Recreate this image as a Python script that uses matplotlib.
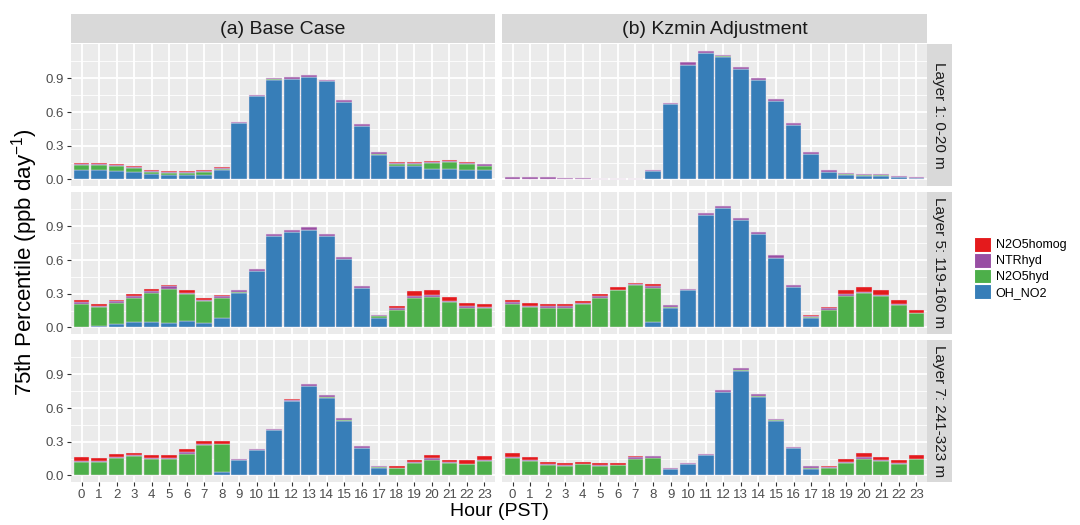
import matplotlib
matplotlib.use("Agg")
import matplotlib.pyplot as plt
from matplotlib.patches import Patch
import numpy as np

plt.rcParams["font.family"] = ["Liberation Sans", "DejaVu Sans"]
plt.rcParams["mathtext.fontset"] = "custom"
plt.rcParams["mathtext.rm"] = "Liberation Sans"
plt.rcParams["mathtext.default"] = "regular"

hours = list(range(24))
columns = ["(a) Base Case", "(b) Kzmin Adjustment"]
layers = ["Layer 1: 0-20 m", "Layer 5: 119-160 m", "Layer 7: 241-323 m"]
species = ["OH_NO2", "N2O5hyd", "NTRhyd", "N2O5homog"]   # stacked bottom -> top
legend_order = ["N2O5homog", "NTRhyd", "N2O5hyd", "OH_NO2"]

# ---- (a) Base Case ----
base_l1_oh = [0.081, 0.080, 0.078, 0.069, 0.050, 0.036, 0.036, 0.042, 0.084, 0.500, 0.740, 0.887,
              0.893, 0.913, 0.872, 0.687, 0.475, 0.221, 0.119, 0.116, 0.096, 0.093, 0.087, 0.080]
base_l1_hyd = [0.048, 0.048, 0.040, 0.033, 0.018, 0.022, 0.022, 0.026, 0.013, 0.003, 0.003, 0.003,
               0.003, 0.002, 0.002, 0.002, 0.003, 0.003, 0.018, 0.021, 0.050, 0.062, 0.052, 0.043]
base_l1_ntr = [0.010, 0.012, 0.013, 0.012, 0.010, 0.012, 0.012, 0.010, 0.008, 0.010, 0.012, 0.014,
               0.016, 0.018, 0.013, 0.015, 0.018, 0.020, 0.013, 0.013, 0.013, 0.013, 0.010, 0.012]
base_l1_homog = [0.004, 0.003, 0.003, 0.002, 0.002, 0.002, 0.002, 0.002, 0.002, 0.0, 0.0, 0.0,
                 0.0, 0.0, 0.0, 0.0, 0.0, 0.0, 0.002, 0.002, 0.002, 0.002, 0.003, 0.002]

base_l5_oh = [0.0, 0.009, 0.030, 0.048, 0.048, 0.039, 0.054, 0.042, 0.083, 0.304, 0.504, 0.810,
              0.849, 0.870, 0.810, 0.608, 0.352, 0.086, 0.0, 0.0, 0.0, 0.0, 0.0, 0.0]
base_l5_hyd = [0.209, 0.170, 0.191, 0.215, 0.262, 0.307, 0.242, 0.194, 0.176, 0.009, 0.0, 0.0,
               0.0, 0.0, 0.0, 0.0, 0.0, 0.012, 0.155, 0.265, 0.274, 0.226, 0.176, 0.173]
base_l5_ntr = [0.015, 0.015, 0.012, 0.015, 0.015, 0.021, 0.015, 0.012, 0.018, 0.021, 0.017, 0.018,
               0.021, 0.021, 0.024, 0.018, 0.017, 0.015, 0.021, 0.015, 0.015, 0.012, 0.018, 0.012]
base_l5_homog = [0.018, 0.018, 0.015, 0.021, 0.018, 0.012, 0.018, 0.012, 0.012, 0.0, 0.0, 0.0,
                 0.0, 0.0, 0.0, 0.0, 0.0, 0.0, 0.015, 0.042, 0.042, 0.036, 0.024, 0.021]

base_l7_oh = [0.0, 0.0, 0.0, 0.0, 0.0, 0.0, 0.0, 0.0, 0.030, 0.134, 0.229, 0.405,
              0.659, 0.799, 0.688, 0.489, 0.247, 0.063, 0.0, 0.0, 0.0, 0.0, 0.0, 0.0]
base_l7_hyd = [0.119, 0.119, 0.152, 0.170, 0.146, 0.146, 0.194, 0.271, 0.248, 0.0, 0.0, 0.0,
               0.006, 0.0, 0.012, 0.006, 0.0, 0.008, 0.063, 0.107, 0.137, 0.107, 0.098, 0.128]
base_l7_ntr = [0.009, 0.006, 0.012, 0.009, 0.009, 0.009, 0.015, 0.012, 0.006, 0.012, 0.009, 0.012,
               0.009, 0.018, 0.012, 0.012, 0.015, 0.009, 0.006, 0.012, 0.015, 0.012, 0.006, 0.012]
base_l7_homog = [0.033, 0.027, 0.027, 0.024, 0.027, 0.027, 0.024, 0.024, 0.024, 0.0, 0.0, 0.0,
                 0.009, 0.0, 0.0, 0.0, 0.0, 0.0, 0.012, 0.018, 0.033, 0.021, 0.030, 0.030]

# ---- (b) Kzmin Adjustment ----
kz_l1_oh = [0.006, 0.006, 0.006, 0.003, 0.003, 0.0, 0.0, 0.0, 0.075, 0.672, 1.021, 1.125,
            1.087, 0.979, 0.884, 0.696, 0.481, 0.227, 0.069, 0.042, 0.033, 0.033, 0.021, 0.015]
kz_l1_hyd = [0.0, 0.0, 0.0, 0.0, 0.0, 0.0, 0.0, 0.0, 0.0, 0.0, 0.0, 0.0,
             0.008, 0.0, 0.0, 0.0, 0.008, 0.0, 0.0, 0.003, 0.009, 0.006, 0.003, 0.0]
kz_l1_ntr = [0.015, 0.015, 0.015, 0.012, 0.012, 0.006, 0.006, 0.006, 0.009, 0.012, 0.021, 0.021,
             0.012, 0.018, 0.015, 0.023, 0.015, 0.018, 0.015, 0.015, 0.009, 0.006, 0.006, 0.006]
kz_l1_homog = [0.0, 0.0, 0.0, 0.0, 0.0, 0.0, 0.0, 0.0, 0.0, 0.0, 0.0, 0.0,
               0.0, 0.0, 0.0, 0.0, 0.0, 0.0, 0.0, 0.0, 0.0, 0.0, 0.0, 0.0]

kz_l5_oh = [0.0, 0.0, 0.0, 0.0, 0.0, 0.0, 0.0, 0.0, 0.048, 0.176, 0.331, 0.998,
            1.064, 0.959, 0.831, 0.620, 0.364, 0.080, 0.0, 0.0, 0.0, 0.0, 0.0, 0.0]
kz_l5_hyd = [0.206, 0.182, 0.173, 0.176, 0.209, 0.265, 0.331, 0.378, 0.307, 0.006, 0.0, 0.0,
             0.0, 0.0, 0.0, 0.0, 0.0, 0.012, 0.155, 0.283, 0.307, 0.280, 0.203, 0.125]
kz_l5_ntr = [0.018, 0.009, 0.015, 0.012, 0.012, 0.012, 0.006, 0.006, 0.018, 0.015, 0.012, 0.018,
             0.015, 0.018, 0.021, 0.021, 0.014, 0.009, 0.015, 0.015, 0.012, 0.009, 0.006, 0.006]
kz_l5_homog = [0.021, 0.027, 0.024, 0.024, 0.015, 0.024, 0.024, 0.015, 0.012, 0.0, 0.0, 0.0,
               0.0, 0.0, 0.0, 0.0, 0.0, 0.009, 0.012, 0.039, 0.042, 0.042, 0.036, 0.024]

kz_l7_oh = [0.0, 0.0, 0.0, 0.0, 0.0, 0.0, 0.0, 0.0, 0.005, 0.060, 0.098, 0.185,
            0.745, 0.930, 0.694, 0.483, 0.241, 0.060, 0.0, 0.0, 0.0, 0.0, 0.0, 0.0]
kz_l7_hyd = [0.158, 0.131, 0.089, 0.083, 0.098, 0.083, 0.089, 0.146, 0.153, 0.0, 0.0, 0.0,
             0.0, 0.009, 0.009, 0.009, 0.0, 0.005, 0.066, 0.113, 0.149, 0.128, 0.104, 0.143]
kz_l7_ntr = [0.006, 0.006, 0.009, 0.006, 0.006, 0.006, 0.006, 0.015, 0.012, 0.006, 0.009, 0.009,
             0.018, 0.015, 0.018, 0.012, 0.012, 0.015, 0.006, 0.009, 0.012, 0.009, 0.009, 0.006]
kz_l7_homog = [0.036, 0.030, 0.024, 0.018, 0.015, 0.018, 0.018, 0.015, 0.006, 0.0, 0.0, 0.0,
               0.0, 0.0, 0.0, 0.0, 0.0, 0.0, 0.009, 0.024, 0.039, 0.030, 0.027, 0.036]

# panels[row][col] -> list of series in stacking order
panels = [
    [[base_l1_oh, base_l1_hyd, base_l1_ntr, base_l1_homog],
     [kz_l1_oh, kz_l1_hyd, kz_l1_ntr, kz_l1_homog]],
    [[base_l5_oh, base_l5_hyd, base_l5_ntr, base_l5_homog],
     [kz_l5_oh, kz_l5_hyd, kz_l5_ntr, kz_l5_homog]],
    [[base_l7_oh, base_l7_hyd, base_l7_ntr, base_l7_homog],
     [kz_l7_oh, kz_l7_hyd, kz_l7_ntr, kz_l7_homog]],
]

COLORS = {"OH_NO2": "#377EB8", "N2O5hyd": "#4DAF4A",
          "NTRhyd": "#984EA3", "N2O5homog": "#E41A1C"}
EDGE = (0.93, 0.88, 0.93, 0.8)
PANEL_BG = "#EBEBEB"
STRIP_BG = "#D9D9D9"

W, H = 1080, 525
fig = plt.figure(figsize=(W / 100, H / 100), dpi=100)


def px_axes(x0, y0, x1, y1, **kw):
    """add axes from pixel box (top-left origin)"""
    return fig.add_axes([x0 / W, 1 - y1 / H, (x1 - x0) / W, (y1 - y0) / H], **kw)


def bare(ax):
    ax.set_xticks([]); ax.set_yticks([])
    for s in ax.spines.values():
        s.set_visible(False)


col_x = [(71, 495), (502, 927)]
row_y = [(44, 186), (192, 334), (340, 482)]
ylim = (-0.058, 1.205)

for r, (y0, y1) in enumerate(row_y):
    for c, (x0, x1) in enumerate(col_x):
        ax = px_axes(x0, y0, x1, y1)
        ax.set_facecolor(PANEL_BG)
        bottom = np.zeros(len(hours))
        for name, vals in zip(species, panels[r][c]):
            v = np.asarray(vals, dtype=float)
            ax.bar(hours, v, bottom=bottom, width=0.9, color=COLORS[name],
                   edgecolor=EDGE, linewidth=0.35, zorder=3)
            bottom += v
        ax.set_xlim(-0.6, 23.6)
        ax.set_ylim(*ylim)
        ax.set_yticks([0.0, 0.3, 0.6, 0.9])
        ax.set_yticks([0.15, 0.45, 0.75, 1.05], minor=True)
        ax.set_xticks(hours)
        ax.grid(True, which="major", color="white", lw=1.3, zorder=0)
        ax.grid(True, which="minor", axis="y", color="white", lw=0.6, zorder=0)
        for s in ax.spines.values():
            s.set_visible(False)
        ax.tick_params(which="minor", length=0)
        ax.tick_params(which="major", length=3.2, width=0.8, color="#333333",
                       labelsize=9.5, labelcolor="#4D4D4D", pad=2)
        if c == 0:
            ax.set_yticklabels(["0.0", "0.3", "0.6", "0.9"])
        else:
            ax.tick_params(axis="y", length=0, labelleft=False)
        if r == len(row_y) - 1:
            ax.set_xticklabels([str(h) for h in hours])
        else:
            ax.tick_params(axis="x", length=0, labelbottom=False)

        # right-hand strip
        if c == 1:
            sx = px_axes(927, y0, 952, y1)
            sx.set_facecolor(STRIP_BG)
            bare(sx)
            sx.text(0.5, 0.5, layers[r], rotation=-90, ha="center", va="center",
                    fontsize=11, color="#1A1A1A", transform=sx.transAxes)

# top strips
for c, (x0, x1) in enumerate(col_x):
    sx = px_axes(x0, 14, x1, 43)
    sx.set_facecolor(STRIP_BG)
    bare(sx)
    sx.text(0.5, 0.45, columns[c], ha="center", va="center", fontsize=14,
            color="#1A1A1A", transform=sx.transAxes)

fig.text(499 / W, 1 - 512 / H, "Hour (PST)", ha="center", va="center", fontsize=14)
fig.text(25 / W, 1 - 262 / H, r"75th Percentile (ppb day$^{-1}$)", rotation=90,
         ha="center", va="center", fontsize=16)

handles = [Patch(facecolor=COLORS[n], edgecolor="white", linewidth=0.8) for n in legend_order]
fig.legend(handles, legend_order, loc="center left", bbox_to_anchor=(965 / W, 1 - 268 / H),
           frameon=False, fontsize=9, handlelength=1.4, handleheight=1.45,
           labelspacing=0.08, handletextpad=0.35, borderpad=0.2)

fig.savefig("out.png", dpi=100, facecolor="white")
